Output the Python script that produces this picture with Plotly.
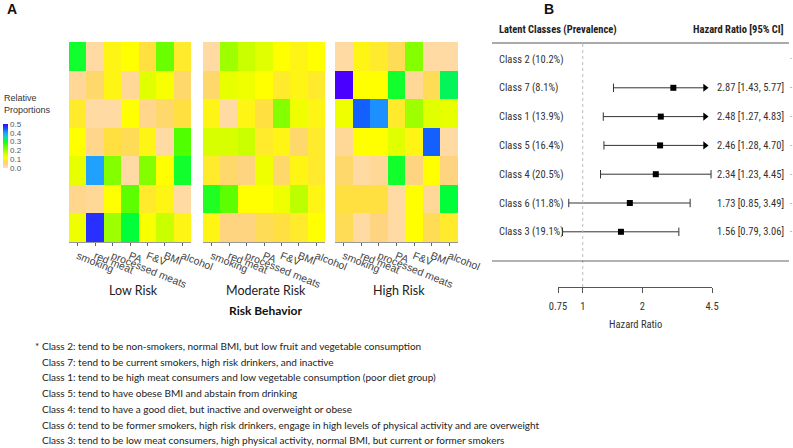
import plotly.graph_objects as go

W, H = 793, 448
def px(x): return x / W
def py(y): return 1 - y / H

# ---------------- data ----------------
behaviors = ["smoking", "red meat", "processed meats", "PA", "F&V", "BMI", "alcohol"]
panel_titles = ["Low Risk", "Moderate Risk", "High Risk"]
row_classes = ["Class 2", "Class 7", "Class 1", "Class 5", "Class 4", "Class 6", "Class 3"]

low_risk = [
    [0.30, 0.02, 0.10, 0.11, 0.08, 0.24, 0.09],
    [0.03, 0.06, 0.10, 0.03, 0.15, 0.12, 0.06],
    [0.09, 0.02, 0.02, 0.11, 0.04, 0.06, 0.08],
    [0.11, 0.04, 0.08, 0.07, 0.10, 0.02, 0.26],
    [0.14, 0.40, 0.22, 0.02, 0.22, 0.11, 0.30],
    [0.04, 0.03, 0.11, 0.25, 0.09, 0.10, 0.02],
    [0.13, 0.47, 0.20, 0.31, 0.12, 0.17, 0.10],
]
moderate_risk = [
    [0.02, 0.20, 0.17, 0.15, 0.11, 0.10, 0.11],
    [0.06, 0.14, 0.13, 0.11, 0.09, 0.10, 0.09],
    [0.10, 0.02, 0.10, 0.08, 0.22, 0.13, 0.10],
    [0.16, 0.16, 0.17, 0.09, 0.10, 0.06, 0.09],
    [0.09, 0.06, 0.05, 0.13, 0.06, 0.10, 0.09],
    [0.29, 0.25, 0.11, 0.11, 0.13, 0.18, 0.10],
    [0.10, 0.05, 0.05, 0.07, 0.08, 0.09, 0.11],
]
high_risk = [
    [0.02, 0.10, 0.09, 0.07, 0.22, 0.02, 0.02],
    [0.50, 0.11, 0.11, 0.30, 0.03, 0.07, 0.32],
    [0.13, 0.44, 0.41, 0.09, 0.20, 0.15, 0.14],
    [0.03, 0.11, 0.11, 0.15, 0.10, 0.44, 0.02],
    [0.06, 0.02, 0.03, 0.30, 0.05, 0.11, 0.05],
    [0.08, 0.08, 0.08, 0.02, 0.11, 0.03, 0.31],
    [0.07, 0.02, 0.05, 0.02, 0.11, 0.07, 0.09],
]

forest_labels = ["Class 2 (10.2%)", "Class 7 (8.1%)", "Class 1 (13.9%)", "Class 5 (16.4%)",
                 "Class 4 (20.5%)", "Class 6 (11.8%)", "Class 3 (19.1%)"]
hr = [None, 2.87, 2.48, 2.46, 2.34, 1.73, 1.56]
ci_low = [None, 1.43, 1.27, 1.28, 1.23, 0.85, 0.79]
ci_high = [None, 5.77, 4.83, 4.70, 4.45, 3.49, 3.06]
hr_ticks = [0.75, 1, 2, 4.5]
hr_ticktext = ["0.75", "1", "2", "4.5"]

footnotes = [
    "Class 2: tend to be non-smokers, normal BMI, but low fruit and vegetable consumption",
    "Class 7: tend to be current smokers, high risk drinkers, and inactive",
    "Class 1: tend to be high meat consumers and low vegetable consumption (poor diet group)",
    "Class 5: tend to have obese BMI and abstain from drinking",
    "Class 4: tend to have a good diet, but inactive and overweight or obese",
    "Class 6: tend to be former smokers, high risk drinkers, engage in high levels of physical activity and are overweight",
    "Class 3: tend to be low meat consumers, high physical activity, normal BMI, but current or former smokers",
]

# ---------------- styles ----------------
ARIAL = "Liberation Sans, Arial, sans-serif"
NARROW = "Liberation Sans Narrow, Arial Narrow, Roboto Condensed, Liberation Sans, sans-serif"
CALIBRI = "Lato, Carlito, Calibri, sans-serif"

colorscale = [
    [0.00, "#FFDFBA"], [0.10, "#FFD480"], [0.16, "#FFE040"], [0.22, "#FFFF00"],
    [0.32, "#D8FF00"], [0.42, "#90FF00"], [0.52, "#50FF00"], [0.62, "#00FF38"],
    [0.70, "#10D8C0"], [0.80, "#20A0FF"], [0.90, "#1050FF"], [1.00, "#4A00FF"],
]

fig = go.Figure()

panels = [low_risk, moderate_risk, high_risk]
domains = [(69, 191), (203, 325), (335, 458)]
for i, z in enumerate(panels):
    ax = "x" if i == 0 else f"x{i+1}"
    fig.add_trace(go.Heatmap(
        z=z, x=list(range(len(behaviors))), y=list(range(len(row_classes))),
        coloraxis="coloraxis", xaxis=ax, yaxis="y",
        hovertemplate="%{z}<extra></extra>",
    ))
    xa = dict(domain=[px(domains[i][0]), px(domains[i][1])], anchor="y",
              range=[-0.5, 6.5], tickmode="array", tickvals=list(range(7)),
              ticktext=behaviors, tickangle=22, ticks="outside", ticklen=3,
              tickcolor="#666", showline=True, linecolor="#999", linewidth=1,
              tickfont=dict(family=ARIAL, size=10.5, color="#444"),
              showgrid=False, zeroline=False, automargin=False)
    fig.update_layout(**{("xaxis" if i == 0 else f"xaxis{i+1}"): xa})

fig.update_layout(yaxis=dict(domain=[py(242), py(42)], range=[6.5, -0.5], visible=False))

fig.update_layout(coloraxis=dict(
    cmin=0, cmax=0.5, colorscale=colorscale,
    colorbar=dict(x=px(3), xanchor="left", xpad=0, y=py(146), yanchor="middle", ypad=0,
                  thickness=5, lenmode="pixels", len=44, outlinewidth=0,
                  tickmode="array", tickvals=[0, 0.1, 0.2, 0.3, 0.4, 0.5],
                  ticktext=["0.0", "0.1", "0.2", "0.3", "0.4", "0.5"], ticks="",
                  tickfont=dict(family=ARIAL, size=8, color="#555")),
))

# ---------------- forest plot ----------------
ROW0, ROWSTEP = 59, 28.8
def row_px(i): return ROW0 + ROWSTEP * i
ytop, ybot = 43, 287
fig.update_layout(
    xaxis4=dict(domain=[px(558), px(712)], anchor="y4", type="log",
                range=[-0.1249387, 0.6532125], tickmode="array", tickvals=hr_ticks,
                ticktext=hr_ticktext, ticks="outside", ticklen=5, tickcolor="#555",
                showline=True, linecolor="#555", linewidth=1, showgrid=False, zeroline=False,
                tickfont=dict(family=NARROW, size=10.5, color="#333"), ticklabelstandoff=4,
                automargin=False),
    yaxis4=dict(domain=[py(ybot), py(ytop)], anchor="x4",
                range=[(ybot - ROW0) / ROWSTEP, (ytop - ROW0) / ROWSTEP], visible=False),
)

AXMAX = 4.5
ARROW_AT = 4.15
lx, ly, capx, capy, arx, ary, ptx, pty = [], [], [], [], [], [], [], []
for i in range(len(forest_labels)):
    if hr[i] is None:
        continue
    right = ci_high[i] if ci_high[i] <= AXMAX else ARROW_AT
    lx += [ci_low[i], right, None]
    ly += [i, i, None]
    capx.append(ci_low[i]); capy.append(i)
    if ci_high[i] <= AXMAX:
        capx.append(ci_high[i]); capy.append(i)
    else:
        arx.append(ARROW_AT); ary.append(i)
    ptx.append(hr[i]); pty.append(i)

fig.add_trace(go.Scatter(x=lx, y=ly, mode="lines", line=dict(color="#333", width=1),
                         xaxis="x4", yaxis="y4", showlegend=False, hoverinfo="skip"))
fig.add_trace(go.Scatter(x=capx, y=capy, mode="markers", xaxis="x4", yaxis="y4",
                         marker=dict(symbol="line-ns-open", size=6, color="#333",
                                     line=dict(color="#333", width=1)),
                         showlegend=False, hoverinfo="skip"))
fig.add_trace(go.Scatter(x=arx, y=ary, mode="markers", xaxis="x4", yaxis="y4",
                         marker=dict(symbol="triangle-right", size=7, color="black"),
                         showlegend=False, hoverinfo="skip"))
fig.add_trace(go.Scatter(x=ptx, y=pty, mode="markers", xaxis="x4", yaxis="y4",
                         marker=dict(symbol="square", size=6, color="black"),
                         showlegend=False, hoverinfo="skip"))

shapes = [
    dict(type="line", xref="x4", yref="paper", x0=1, x1=1, y0=py(ybot), y1=py(ytop),
         line=dict(color="#bbb", width=1, dash="dot")),
    dict(type="line", xref="paper", yref="paper", x0=px(492), x1=px(789), y0=py(43), y1=py(43),
         line=dict(color="#aaa", width=2)),
    dict(type="line", xref="paper", yref="paper", x0=px(492), x1=px(789), y0=py(261), y1=py(261),
         line=dict(color="#666", width=1)),
]

ann = []
def text(x, y, s, size, family, anchor="left", color="#222", bold=False):
    if bold:
        s = f"<b>{s}</b>"
    ann.append(dict(x=px(x), y=py(y), xref="paper", yref="paper", text=s, showarrow=False,
                    xanchor=anchor, yanchor="middle", align=anchor if anchor != "center" else "center",
                    font=dict(size=size, family=family, color=color)))

text(5, 9, "A", 14, ARIAL, "left", "#111", True)
text(542, 9, "B", 14, ARIAL, "left", "#111", True)
text(2, 104, "Relative<br>Proportions", 9, ARIAL, "left", "#333")

centers = [133, 266, 399]
for c, t in zip(centers, panel_titles):
    text(c, 290, t, 12.5, CALIBRI, "center", "#222")
text(266, 310, "Risk Behavior", 12, CALIBRI, "center", "#111", True)

text(497, 29, "Latent Classes (Prevalence)", 10.5, NARROW, "left", "#222", True)
text(786, 29, "Hazard Ratio [95% CI]", 10.5, NARROW, "right", "#222", True)
for i, lab in enumerate(forest_labels):
    text(497, row_px(i), lab, 10.5, NARROW, "left", "#333")
    if hr[i] is not None:
        s = f"{hr[i]:.2f} [{ci_low[i]:.2f}, {ci_high[i]:.2f}]"
        text(786, row_px(i), s, 10.5, NARROW, "right", "#333")
        text(788, row_px(i), "-", 8, NARROW, "left", "#666")
    else:
        text(788, row_px(i) - 2, ".", 8, NARROW, "left", "#666")
text(635, 324, "Hazard Ratio", 10.5, NARROW, "center", "#333")

text(33, 346, "*", 10, CALIBRI, "left", "#222")
for i, f in enumerate(footnotes):
    text(40, 346 + 15.7 * i, f, 10, CALIBRI, "left", "#222")

fig.update_layout(
    width=W, height=H, margin=dict(l=0, r=0, t=0, b=0, autoexpand=False),
    paper_bgcolor="white", plot_bgcolor="white",
    shapes=shapes, annotations=ann, showlegend=False,
)

fig.write_html("out.html", config={"displayModeBar": False},
               post_script="document.body.style.margin='0';document.body.style.overflow='hidden';")
